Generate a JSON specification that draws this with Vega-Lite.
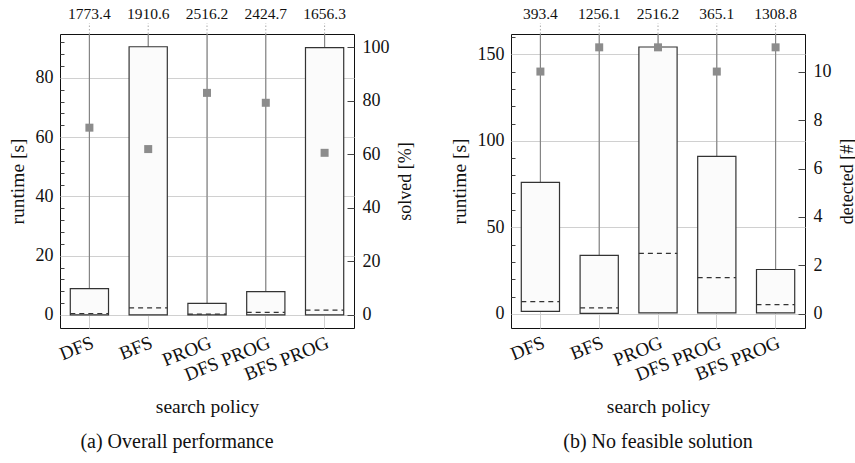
{
  "$schema": "https://vega.github.io/schema/vega-lite/v6.json",
  "padding": {"left": 6, "top": 6, "right": 0, "bottom": 0},
  "background": "white",
  "datasets": {
    "a": [
      {"policy": "DFS", "q1": 0, "median": 0.5, "q3": 8.9, "max": 1773.4, "right": 70.0},
      {"policy": "BFS", "q1": 0, "median": 2.4, "q3": 90.5, "max": 1910.6, "right": 62.0},
      {"policy": "PROG", "q1": 0, "median": 0.3, "q3": 3.9, "max": 2516.2, "right": 83.0},
      {"policy": "DFS PROG", "q1": 0, "median": 0.9, "q3": 7.9, "max": 2424.7, "right": 79.3},
      {"policy": "BFS PROG", "q1": 0, "median": 1.6, "q3": 90.2, "max": 1656.3, "right": 60.6}
    ],
    "b": [
      {"policy": "DFS", "q1": 1.5, "median": 7.1, "q3": 76.0, "max": 393.4, "right": 10},
      {"policy": "BFS", "q1": 0.4, "median": 3.5, "q3": 33.8, "max": 1256.1, "right": 11},
      {"policy": "PROG", "q1": 0.6, "median": 35.0, "q3": 154.2, "max": 2516.2, "right": 11},
      {"policy": "DFS PROG", "q1": 0.6, "median": 21.0, "q3": 91.0, "max": 365.1, "right": 10},
      {"policy": "BFS PROG", "q1": 0.6, "median": 5.4, "q3": 25.7, "max": 1308.8, "right": 11}
    ]
  },
  "config": {
    "font": "Liberation Serif",
    "view": {"stroke": "#111", "strokeWidth": 1},
    "axis": {
      "labelFont": "Liberation Serif", "titleFont": "Liberation Serif",
      "labelColor": "#111", "titleColor": "#111", "titleFontWeight": "normal",
      "domain": false, "gridColor": "#d0d0d0", "gridWidth": 1, "tickColor": "#444",
      "labelFontSize": 18, "titleFontSize": 19.5
    },
    "title": {"font": "Liberation Serif", "fontWeight": "normal", "fontSize": 20, "color": "#111"}
  },
  "spacing": 33,
  "hconcat": [
    {
      "width": 294, "height": 294,
      "data": {"name": "a"},
      "title": {"text": "(a) Overall performance", "orient": "bottom", "frame": "group", "anchor": "middle", "dx": -30, "offset": 16},
      "layer": [
        {
          "mark": {"type": "rule", "color": "#858585", "strokeWidth": 1.2, "clip": true},
          "encoding": {
            "x": {"field": "policy", "type": "nominal", "sort": null, "scale": {"paddingInner": 0, "paddingOuter": 0},
              "axis": {"title": "search policy", "labelAngle": -22, "labelFontSize": 19, "labelAlign": "right", "labelBaseline": "top", "labelPadding": 5, "tickSize": 0, "grid": true, "titlePadding": 13}},
            "y": {"field": "q3", "type": "quantitative", "scale": {"domain": [-4.4, 94.8], "nice": false, "zero": false},
              "axis": {"orient": "left", "title": "runtime [s]", "values": [0, 20, 40, 60, 80], "grid": true, "tickSize": 0, "labelPadding": 7, "titlePadding": 8}},
            "y2": {"field": "max"}
          }
        },
        {
          "mark": {"type": "bar", "fill": "#fbfbfb", "stroke": "#333", "strokeWidth": 1.2, "width": {"band": 0.65}},
          "encoding": {
            "x": {"field": "policy", "type": "nominal", "sort": null},
            "y": {"field": "q1", "type": "quantitative", "scale": {"domain": [-4.4, 94.8], "nice": false, "zero": false},
              "axis": {"orient": "left", "title": null, "values": [4, 8, 12, 16, 24, 28, 32, 36, 44, 48, 52, 56, 64, 68, 72, 76, 84, 88, 92], "labels": false, "grid": false, "tickSize": -4}},
            "y2": {"field": "q3"}
          }
        },
        {
          "mark": {"type": "rule", "color": "#333", "strokeDash": [5, 4], "strokeWidth": 1.2},
          "encoding": {
            "x": {"field": "policy", "type": "nominal", "sort": null, "bandPosition": 0.175},
            "x2": {"field": "policy", "bandPosition": 0.825},
            "y": {"field": "median", "type": "quantitative", "scale": {"domain": [-4.4, 94.8], "nice": false, "zero": false}, "axis": null}
          }
        },
        {
          "mark": {"type": "rule", "color": "#aaaaaa", "strokeDash": [1.5, 2], "strokeWidth": 1},
          "encoding": {
            "x": {"field": "policy", "type": "nominal", "sort": null},
            "y": {"datum": 94.8, "scale": {"domain": [-4.4, 94.8], "nice": false, "zero": false}, "axis": null},
            "y2": {"datum": 98.5}
          }
        },
        {
          "mark": {"type": "text", "fontSize": 15.5, "baseline": "middle", "color": "#111"},
          "encoding": {
            "x": {"field": "policy", "type": "nominal", "sort": null},
            "y": {"datum": 101.5, "scale": {"domain": [-4.4, 94.8], "nice": false, "zero": false}, "axis": null},
            "text": {"field": "max", "type": "quantitative", "format": ".1f"}
          }
        },
        {
          "mark": {"type": "square", "size": 64, "color": "#8c8c8c", "opacity": 1},
          "encoding": {
            "x": {"field": "policy", "type": "nominal", "sort": null},
            "y": {"field": "right", "type": "quantitative", "scale": {"domain": [-4.86, 105], "nice": false, "zero": false},
              "axis": {"orient": "right", "title": "solved [%]", "titleFontSize": 18, "values": [0, 20, 40, 60, 80, 100], "grid": false, "tickSize": -7, "labelPadding": 15, "titlePadding": 7, "titleAngle": -90, "titleBaseline": "top"}}
          }
        }
      ],
      "resolve": {"scale": {"y": "independent"}}
    },
    {
      "width": 294, "height": 294,
      "data": {"name": "b"},
      "title": {"text": "(b) No feasible solution", "orient": "bottom", "frame": "group", "anchor": "middle", "offset": 16},
      "layer": [
        {
          "mark": {"type": "rule", "color": "#858585", "strokeWidth": 1.2, "clip": true},
          "encoding": {
            "x": {"field": "policy", "type": "nominal", "sort": null, "scale": {"paddingInner": 0, "paddingOuter": 0},
              "axis": {"title": "search policy", "labelAngle": -22, "labelFontSize": 19, "labelAlign": "right", "labelBaseline": "top", "labelPadding": 5, "tickSize": 0, "grid": true, "titlePadding": 13}},
            "y": {"field": "q3", "type": "quantitative", "scale": {"domain": [-8.1, 161.7], "nice": false, "zero": false},
              "axis": {"orient": "left", "title": "runtime [s]", "values": [0, 50, 100, 150], "grid": true, "tickSize": 0, "labelPadding": 7, "titlePadding": 8}},
            "y2": {"field": "max"}
          }
        },
        {
          "mark": {"type": "bar", "fill": "#fbfbfb", "stroke": "#333", "strokeWidth": 1.2, "width": {"band": 0.65}},
          "encoding": {
            "x": {"field": "policy", "type": "nominal", "sort": null},
            "y": {"field": "q1", "type": "quantitative", "scale": {"domain": [-8.1, 161.7], "nice": false, "zero": false},
              "axis": {"orient": "left", "title": null, "values": [10, 20, 30, 40, 60, 70, 80, 90, 110, 120, 130, 140, 160], "labels": false, "grid": false, "tickSize": -4}},
            "y2": {"field": "q3"}
          }
        },
        {
          "mark": {"type": "rule", "color": "#333", "strokeDash": [5, 4], "strokeWidth": 1.2},
          "encoding": {
            "x": {"field": "policy", "type": "nominal", "sort": null, "bandPosition": 0.175},
            "x2": {"field": "policy", "bandPosition": 0.825},
            "y": {"field": "median", "type": "quantitative", "scale": {"domain": [-8.1, 161.7], "nice": false, "zero": false}, "axis": null}
          }
        },
        {
          "mark": {"type": "rule", "color": "#aaaaaa", "strokeDash": [1.5, 2], "strokeWidth": 1},
          "encoding": {
            "x": {"field": "policy", "type": "nominal", "sort": null},
            "y": {"datum": 161.7, "scale": {"domain": [-8.1, 161.7], "nice": false, "zero": false}, "axis": null},
            "y2": {"datum": 168.0}
          }
        },
        {
          "mark": {"type": "text", "fontSize": 15.5, "baseline": "middle", "color": "#111"},
          "encoding": {
            "x": {"field": "policy", "type": "nominal", "sort": null},
            "y": {"datum": 173.2, "scale": {"domain": [-8.1, 161.7], "nice": false, "zero": false}, "axis": null},
            "text": {"field": "max", "type": "quantitative", "format": ".1f"}
          }
        },
        {
          "mark": {"type": "square", "size": 64, "color": "#8c8c8c", "opacity": 1},
          "encoding": {
            "x": {"field": "policy", "type": "nominal", "sort": null},
            "y": {"field": "right", "type": "quantitative", "scale": {"domain": [-0.58, 11.55], "nice": false, "zero": false},
              "axis": {"orient": "right", "title": "detected [#]", "titleFontSize": 18, "values": [0, 2, 4, 6, 8, 10], "grid": false, "tickSize": -7, "labelPadding": 15, "titlePadding": 7, "titleAngle": -90, "titleBaseline": "top"}}
          }
        }
      ],
      "resolve": {"scale": {"y": "independent"}}
    }
  ]
}
